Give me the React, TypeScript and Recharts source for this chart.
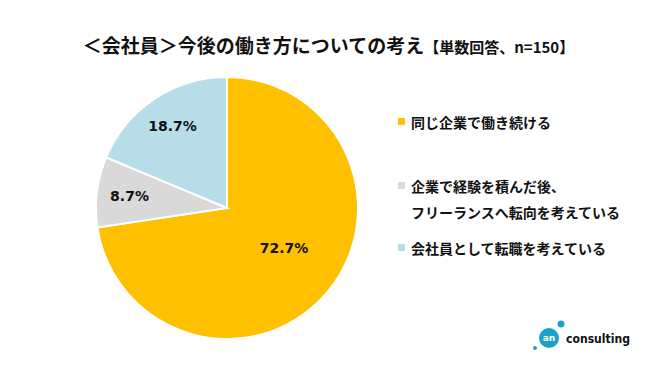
import React from "react";
import { PieChart, Pie, Cell, Legend, Customized } from "recharts";

const categories = [
  "同じ企業で働き続ける",
  "企業で経験を積んだ後、\nフリーランスへ転向を考えている",
  "会社員として転職を考えている",
];
const values = [72.7, 8.7, 18.7];
const colors = ["#FFC000", "#D9D9D9", "#B7DEE8"];

const data = categories.map((name, i) => ({ name, value: values[i] }));

const RAD = Math.PI / 180;
const jp = "'Noto Sans CJK JP', 'Noto Sans', sans-serif";

const renderLabel = (p: any) => {
  const { cx, cy, midAngle, outerRadius, value, index } = p;
  const r = index === 0 ? outerRadius * 0.53 : outerRadius * 0.75;
  const a = index === 0 ? midAngle + 6 : midAngle;
  const x = cx + r * Math.cos(-a * RAD);
  const y = cy + r * Math.sin(-a * RAD);
  return (
    <text
      x={x}
      y={y}
      textAnchor="middle"
      dominantBaseline="central"
      fill="#111"
      style={{ fontFamily: "'DejaVu Sans', Verdana, sans-serif", fontWeight: 700, fontSize: 14 }}
    >
      {value.toFixed(1)}%
    </text>
  );
};

const LegendBox = () => (
  <div style={{ fontFamily: jp, fontWeight: 700, fontSize: 14, color: "#111" }}>
    {categories.map((c, i) => {
      const lines = c.split("\n");
      return (
        <div key={c} style={{ position: "relative", marginBottom: i === 0 ? 38 : 10 }}>
          <span
            style={{
              position: "absolute",
              left: -13,
              top: 9,
              width: 7,
              height: 7,
              background: colors[i],
            }}
          />
          {lines.map((l, j) => (
            <div key={j} style={{ lineHeight: "26px" }}>
              {l}
            </div>
          ))}
        </div>
      );
    })}
  </div>
);

const Logo = () => (
  <g>
    <circle cx={549} cy={338} r={10} fill="#1AA3C8" />
    <circle cx={561} cy={324} r={3.5} fill="#1AA3C8" />
    <circle cx={535} cy={348} r={2} fill="#1AA3C8" />
    <text
      x={549}
      y={338}
      textAnchor="middle"
      dominantBaseline="central"
      fill="#fff"
      style={{ fontFamily: "'DejaVu Sans', sans-serif", fontWeight: 700, fontSize: 9 }}
    >
      an
    </text>
    <text
      x={566}
      y={338}
      dominantBaseline="central"
      fill="#111"
      textLength={64}
      lengthAdjust="spacingAndGlyphs"
      style={{ fontFamily: "'DejaVu Sans Condensed', 'DejaVu Sans', sans-serif", fontWeight: 700, fontSize: 13 }}
    >
      consulting
    </text>
  </g>
);

export default function App() {
  return (
    <div style={{ position: "absolute", left: 0, top: 0, width: 657, height: 374, background: "#fff" }}>
      <div
        style={{
          position: "absolute",
          top: 31,
          left: 0,
          width: 657,
          textAlign: "center",
          fontFamily: jp,
          fontWeight: 700,
          color: "#111",
          whiteSpace: "nowrap",
        }}
      >
        <span style={{ fontSize: 19 }}>＜会社員＞今後の働き方についての考え</span>
        <span style={{ fontSize: 15 }}>【単数回答、n=150】</span>
      </div>
      <PieChart width={657} height={374} margin={{ top: 0, right: 0, bottom: 0, left: 0 }}>
        <Pie
          data={data}
          dataKey="value"
          nameKey="name"
          cx={227}
          cy={208}
          outerRadius={131}
          startAngle={90}
          endAngle={-270}
          stroke="#fff"
          strokeWidth={2}
          label={renderLabel}
          labelLine={false}
          isAnimationActive={false}
        >
          {data.map((d, i) => (
            <Cell key={d.name} fill={colors[i]} />
          ))}
        </Pie>
        <Legend
          layout="vertical"
          content={<LegendBox />}
          wrapperStyle={{ position: "absolute", left: 411, top: 109, width: 240 }}
        />
        <Customized component={<Logo />} />
      </PieChart>
    </div>
  );
}
